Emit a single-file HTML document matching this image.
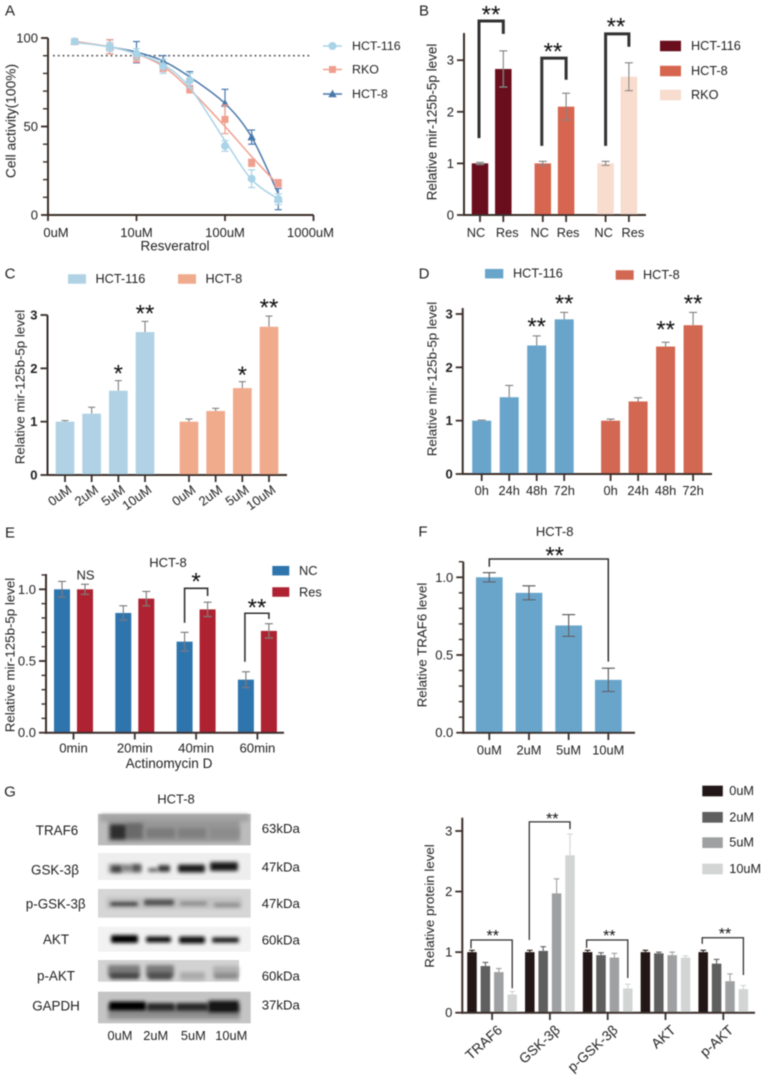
<!DOCTYPE html>
<html lang="en">
<head>
<meta charset="utf-8">
<title>Resveratrol and mir-125b-5p figure</title>
<style>
html,body{margin:0;padding:0;background:#fff;width:766px;height:1080px;overflow:hidden}
svg{display:block}
text{font-family:"Liberation Sans",sans-serif;fill:#222}
</style>
</head>
<body>
<svg id="figure" xmlns="http://www.w3.org/2000/svg" width="766" height="1080" viewBox="0 0 766 1080">
  <defs>
    <filter id="soft" filterUnits="userSpaceOnUse" x="0" y="0" width="766" height="1080"><feGaussianBlur stdDeviation="0.4"/></filter>
    <filter id="bandBlur" x="-30%" y="-80%" width="160%" height="260%"><feGaussianBlur stdDeviation="1.9"/></filter>
  </defs>
  <rect width="766" height="1080" fill="#fff"/>
  <g id="root" filter="url(#soft)">
    <g id="panelA"></g>
    <g id="panelB"></g>
    <g id="panelC"></g>
    <g id="panelD"></g>
    <g id="panelE"></g>
    <g id="panelF"></g>
    <g id="panelG"></g>
    <g id="panelH"></g>
  </g>
</svg>
<script>
// ---------- Panel A data ----------
const panelADoses = [2, 5, 10, 20, 40, 100, 200, 400];
const panelAXTickValues = [1, 10, 100, 1000];
const panelAXTickLabels = ['0uM', '10uM', '100uM', '1000uM'];
const panelAYTicks = [0, 50, 100];
const panelAHct116 = [98, 95, 91, 84, 76, 39, 20.5, 9];
const panelAHct116Err = [1, 2.5, 3, 4, 4, 3, 5, 3];
const panelAHct116Fit = [97.5, 95, 91, 85, 72, 42, 20, 9];
const panelARko = [98, 95, 89, 83, 71, 54, 29.5, 18];
const panelARkoErr = [1, 4, 2.5, 2, 2, 8, 2, 2];
const panelARkoFit = [98, 95, 91, 84, 71, 50, 33, 17];
const panelAHct8 = [98, 95, 92, 87, 77, 63, 44, 9];
const panelAHct8Err = [1, 4, 6, 3, 4, 8, 4, 6];
const panelAHct8Fit = [98, 95, 92, 87, 78, 63, 44, 12];

// ---------- Panel B data ----------
const panelBCategories = ['NC', 'Res'];
const panelBYTicks = [0, 1, 2, 3];
const panelBHct116 = [1, 2.83];
const panelBHct116Err = [0.02, 0.35];
const panelBHct8 = [1, 2.1];
const panelBHct8Err = [0.04, 0.26];
const panelBRko = [1, 2.68];
const panelBRkoErr = [0.04, 0.27];

// ---------- Panel C data ----------
const panelCCategories = ['0uM', '2uM', '5uM', '10uM'];
const panelCYTicks = [0, 1, 2, 3];
const panelCHct116 = [1, 1.15, 1.58, 2.68];
const panelCHct116Err = [0.02, 0.12, 0.19, 0.2];
const panelCHct8 = [1, 1.2, 1.63, 2.78];
const panelCHct8Err = [0.05, 0.05, 0.12, 0.2];

// ---------- Panel D data ----------
const panelDCategories = ['0h', '24h', '48h', '72h'];
const panelDYTicks = [0, 1, 2, 3];
const panelDHct116 = [1, 1.44, 2.41, 2.9];
const panelDHct116Err = [0.01, 0.22, 0.18, 0.13];
const panelDHct8 = [1, 1.36, 2.39, 2.79];
const panelDHct8Err = [0.03, 0.07, 0.08, 0.24];

// ---------- Panel E data ----------
const panelECategories = ['0min', '20min', '40min', '60min'];
const panelEYTicks = [0, 0.5, 1];
const panelENc = [1, 0.835, 0.635, 0.37];
const panelENcErr = [0.055, 0.05, 0.065, 0.055];
const panelERes = [1, 0.935, 0.86, 0.71];
const panelEResErr = [0.035, 0.05, 0.05, 0.05];

// ---------- Panel F data ----------
const panelFCategories = ['0uM', '2uM', '5uM', '10uM'];
const panelFYTicks = [0, 0.5, 1];
const panelFValues = [1, 0.9, 0.69, 0.34];
const panelFErr = [0.03, 0.045, 0.07, 0.075];

// ---------- Panel G protein data ----------
const proteinCategories = ['TRAF6', 'GSK-3β', 'p-GSK-3β', 'AKT', 'p-AKT'];
const proteinDoses = ['0uM', '2uM', '5uM', '10uM'];
const proteinYTicks = [0, 1, 2, 3];
const protein0uM = [1, 1, 1, 1, 1];
const protein0uMErr = [0.03, 0.03, 0.03, 0.03, 0.03];
const protein2uM = [0.77, 1.02, 0.95, 0.98, 0.81];
const protein2uMErr = [0.06, 0.07, 0.04, 0.02, 0.07];
const protein5uM = [0.67, 1.97, 0.91, 0.95, 0.52];
const protein5uMErr = [0.06, 0.24, 0.07, 0.05, 0.12];
const protein10uM = [0.3, 2.6, 0.4, 0.91, 0.39];
const protein10uMErr = [0.05, 0.35, 0.07, 0.03, 0.06];

// ---------- Helpers ----------
const NS = 'http://www.w3.org/2000/svg';
const INK = '#3a2f2a';

function add(parent, tag, attrs) {
  const el = document.createElementNS(NS, tag);
  for (const k in attrs) el.setAttribute(k, attrs[k]);
  parent.appendChild(el);
  return el;
}
function label(parent, x, y, str, size, name, opts) {
  const o = opts || {};
  const el = add(parent, 'text', {x: x, y: y, 'font-size': size, 'text-anchor': o.anchor || 'middle', 'dominant-baseline': o.baseline || 'central'});
  if (o.rotate !== undefined) el.setAttribute('transform', 'rotate(' + o.rotate + ' ' + x + ' ' + y + ')');
  if (o.bold) el.setAttribute('font-weight', 'bold');
  if (o.fill) el.style.fill = o.fill;
  el.textContent = str;
  
  
  return el;
}
function segment(parent, x1, y1, x2, y2, color, width, name) {
  const el = add(parent, 'line', {x1: x1, y1: y1, x2: x2, y2: y2, stroke: color, 'stroke-width': width});
  
  
  return el;
}
function makeAxes(c) {
  return {
    cfg: c,
    y: v => c.y0 - v * c.k,
    x: i => c.first + c.step * i + c.extra * Math.floor(i / c.groupSize)
  };
}
function drawYAxis(g, ax, ticks, labels, opts) {
  const c = ax.cfg;
  segment(g, c.x0, c.yTop, c.x0, c.y0 + 1, INK, 2, 'y-axis-line');
  ticks.forEach((t, i) => {
    segment(g, c.x0 - 7, ax.y(t), c.x0, ax.y(t), INK, 1.8, 'y-axis-tick');
    label(g, c.x0 - 10, ax.y(t), labels[i], opts.size, 'y-axis-tick-label', {anchor: 'end', bold: opts.bold});
  });
  if (opts.minor) {
    for (let v = 0; ax.y(v) >= c.yTop - 0.5; v += opts.minor) {
      segment(g, c.x0 - 4.5, ax.y(v), c.x0, ax.y(v), INK, 1.4, 'y-axis-minor-tick');
    }
  }
}
function drawXLine(g, ax) {
  const c = ax.cfg;
  segment(g, c.x0 - 1, c.y0, c.xEnd, c.y0, INK, 2, 'x-axis-line');
}
function drawBars(g, ax, bars, err) {
  const c = ax.cfg;
  bars.forEach((b, i) => {
    const x = ax.x(i);
    const top = ax.y(b.v);
    const r = add(g, 'rect', {x: x - c.barW / 2, y: top, width: c.barW, height: c.y0 - top, fill: b.color});
    
    
  });
  bars.forEach((b, i) => {
    const x = ax.x(i);
    const col = err.color || b.color;
    const hi = ax.y(b.v + b.e);
    const lo = err.both ? ax.y(b.v - b.e) : ax.y(b.v);
    segment(g, x, lo, x, hi, col, err.width, 'error-bar-' + b.name);
    segment(g, x - err.cap, hi, x + err.cap, hi, col, err.width, 'error-cap-' + b.name);
    if (err.both) segment(g, x - err.cap, lo, x + err.cap, lo, col, err.width, 'error-cap-' + b.name);
  });
}
function bracket(g, ax, i, j, startV, topV, endV, width, dx) {
  const x1 = ax.x(i) + dx, x2 = ax.x(j) + dx * 0;
  const el = add(g, 'polyline', {points: [x1, ax.y(startV), x1, ax.y(topV), x2, ax.y(topV), x2, ax.y(endV)].join(' '), fill: 'none', stroke: '#333', 'stroke-width': width});
  
  
}
function stars(g, x, cy, str, size) {
  const el = label(g, x, cy + 0.56 * size, str, size, 'significance-stars', {baseline: 'auto', fill: '#111'});
  return el;
}
function swatch(g, x, cy, w, h, color, text, tx, size) {
  const r = add(g, 'rect', {x: x, y: cy - h / 2, width: w, height: h, fill: color});
  
  
  label(g, tx, cy, text, size, 'legend-label-' + text, {anchor: 'start'});
}
function seriesBars(list) {
  const out = [];
  list.forEach(s => s.values.forEach((v, i) => out.push({v: v, e: s.errs[i], color: s.color, name: s.name + '-' + i})));
  return out;
}
function groupedBars(list, n) {
  const out = [];
  for (let i = 0; i < n; i++) list.forEach(s => out.push({v: s.values[i], e: s.errs[i], color: s.color, name: s.name + '-' + i}));
  return out;
}
function smooth(pts) {
  let d = 'M' + pts[0][0] + ' ' + pts[0][1];
  for (let i = 0; i < pts.length - 1; i++) {
    const p0 = pts[Math.max(0, i - 1)], p1 = pts[i], p2 = pts[i + 1], p3 = pts[Math.min(pts.length - 1, i + 2)];
    d += ' C' + (p1[0] + (p2[0] - p0[0]) / 6) + ' ' + (p1[1] + (p2[1] - p0[1]) / 6) + ' ' +
      (p2[0] - (p3[0] - p1[0]) / 6) + ' ' + (p2[1] - (p3[1] - p1[1]) / 6) + ' ' + p2[0] + ' ' + p2[1];
  }
  return d;
}

// ---------- Panel A ----------
(function () {
  const g = document.getElementById('panelA');
  label(g, 10, 11, 'A', 15, 'panel-letter-a');
  const xA = v => 48 + 88.5 * Math.log10(v);
  const yA = v => 215 - 1.77 * v;
  segment(g, 48, 38, 48, 216, INK, 2, 'y-axis-line');
  segment(g, 47, 215, 313.5, 215, INK, 2, 'x-axis-line');
  for (let v = 0; v <= 100; v += 10) segment(g, 43, yA(v), 48, yA(v), INK, 1.4, 'y-axis-minor-tick');
  panelAYTicks.forEach(t => {
    segment(g, 41, yA(t), 48, yA(t), INK, 1.8, 'y-axis-tick');
    label(g, 38, yA(t), String(t), 13, 'y-axis-tick-label', {anchor: 'end'});
  });
  const nudge = [8, 0, 0, -3];
  panelAXTickValues.forEach((t, i) => {
    segment(g, xA(t), 215, xA(t), 221, INK, 1.8, 'x-axis-tick');
    label(g, xA(t) + nudge[i], 232.5, panelAXTickLabels[i], 13, 'x-axis-tick-label');
  });
  label(g, 175, 246, 'Resveratrol', 13.5, 'x-axis-title');
  label(g, 11, 121, 'Cell activity(100%)', 13.8, 'y-axis-title', {rotate: -90});
  const ref = segment(g, 53, yA(90), 312, yA(90), '#555', 1.6, 'ninety-percent-reference-line');
  ref.setAttribute('stroke-dasharray', '1.8 3');

  const series = [
    {name: 'hct-8', color: '#4a78aa', vals: panelAHct8, errs: panelAHct8Err, fit: panelAHct8Fit, shape: 'tri'},
    {name: 'rko', color: '#ef9f8e', vals: panelARko, errs: panelARkoErr, fit: panelARkoFit, shape: 'sq'},
    {name: 'hct-116', color: '#a9d3e6', vals: panelAHct116, errs: panelAHct116Err, fit: panelAHct116Fit, shape: 'dot'}
  ];
  function marker(parent, shape, x, y, color, name) {
    let m;
    if (shape === 'dot') m = add(parent, 'circle', {cx: x, cy: y, r: 4, fill: color});
    else if (shape === 'sq') m = add(parent, 'rect', {x: x - 3.5, y: y - 3.5, width: 7, height: 7, fill: color});
    else m = add(parent, 'polygon', {points: [x, y - 4.4, x + 4.2, y + 3.2, x - 4.2, y + 3.2].join(' '), fill: color});
    
    
  }
  series.forEach(s => {
    const line = add(g, 'path', {d: smooth(panelADoses.map((d, i) => [xA(d), yA(s.fit[i])])), fill: 'none', stroke: s.color, 'stroke-width': 1.5});
    
    
    panelADoses.forEach((d, i) => {
      const x = xA(d), hi = yA(s.vals[i] + s.errs[i]), lo = yA(s.vals[i] - s.errs[i]);
      segment(g, x, lo, x, hi, s.color, 1.2, 'error-bar-' + s.name);
      segment(g, x - 3.5, hi, x + 3.5, hi, s.color, 1.2, 'error-cap-' + s.name);
      segment(g, x - 3.5, lo, x + 3.5, lo, s.color, 1.2, 'error-cap-' + s.name);
      marker(g, s.shape, x, yA(s.vals[i]), s.color, 'point-' + s.name);
    });
  });
  [['HCT-116', '#a9d3e6', 'dot', 46], ['RKO', '#ef9f8e', 'sq', 69.5], ['HCT-8', '#4a78aa', 'tri', 94]].forEach(l => {
    segment(g, 323, l[3], 342, l[3], l[1], 1.6, 'legend-line-' + l[0]);
    marker(g, l[2], 332.5, l[3], l[1], 'legend-marker-' + l[0]);
    label(g, 352, l[3], l[0], 12.4, 'legend-label-' + l[0], {anchor: 'start'});
  });
})();

// ---------- Panel B ----------
(function () {
  const g = document.getElementById('panelB');
  label(g, 424, 11, 'B', 15, 'panel-letter-b');
  const ax = makeAxes({x0: 464, y0: 215, yTop: 33, xEnd: 646, k: 51.6, first: 480, step: 23.3, extra: 16.2, groupSize: 2, barW: 16.5});
  const list = [
    {name: 'hct-116', color: '#6a0f1e', values: panelBHct116, errs: panelBHct116Err},
    {name: 'hct-8', color: '#d6664f', values: panelBHct8, errs: panelBHct8Err},
    {name: 'rko', color: '#f8dccd', values: panelBRko, errs: panelBRkoErr}
  ];
  const bars = seriesBars(list);
  drawBars(g, ax, bars, {both: true, cap: 4, width: 1.1, color: '#808080'});
  drawXLine(g, ax);
  drawYAxis(g, ax, panelBYTicks, panelBYTicks.map(String), {size: 13});
  const nudge = [-4, 4, -3, 2, -2, 4];
  const cats = list.flatMap(() => panelBCategories);
  cats.forEach((c, i) => {
    segment(g, ax.x(i), 215, ax.x(i), 222, INK, 1.8, 'x-axis-tick');
    label(g, ax.x(i) + nudge[i], 232.5, c, 12.8, 'x-axis-tick-label');
  });
  label(g, 432, 122, 'Relative mir-125b-5p level', 13.5, 'y-axis-title', {rotate: -90});
  bracket(g, ax, 0, 1, 1.49, 3.76, 3.51, 3, -1);
  bracket(g, ax, 2, 3, 1.34, 3.04, 2.62, 3, -1);
  bracket(g, ax, 4, 5, 1.34, 3.51, 3.26, 3, 0);
  stars(g, 491, 9, '**', 24);
  stars(g, 553, 46, '**', 24);
  stars(g, 616, 21, '**', 24);
  swatch(g, 660, 46, 21, 10.5, '#6a0f1e', 'HCT-116', 691, 12.7);
  swatch(g, 660, 71, 21, 10.5, '#d6664f', 'HCT-8', 691, 12.7);
  swatch(g, 660, 95, 21, 10.5, '#f8dccd', 'RKO', 691, 12.7);
})();

// ---------- Panel C ----------
(function () {
  const g = document.getElementById('panelC');
  label(g, 10, 274, 'C', 15, 'panel-letter-c');
  const ax = makeAxes({x0: 47.5, y0: 475, yTop: 315, xEnd: 287, k: 53.33, first: 65, step: 26.67, extra: 17.3, groupSize: 4, barW: 18.7});
  const bars = seriesBars([
    {name: 'hct-116', color: '#b0d2e4', values: panelCHct116, errs: panelCHct116Err},
    {name: 'hct-8', color: '#f0ab8d', values: panelCHct8, errs: panelCHct8Err}
  ]);
  drawBars(g, ax, bars, {both: false, cap: 3.5, width: 1.1, color: '#808080'});
  drawXLine(g, ax);
  drawYAxis(g, ax, panelCYTicks, panelCYTicks.map(String), {size: 13, bold: true});
  panelCCategories.concat(panelCCategories).forEach((c, i) => {
    segment(g, ax.x(i), 475, ax.x(i), 482, INK, 1.8, 'x-axis-tick');
    label(g, ax.x(i) + 5, 488, c, 13, 'x-axis-tick-label', {anchor: 'end', rotate: -36});
  });
  label(g, 20, 387, 'Relative mir-125b-5p level', 13.3, 'y-axis-title', {rotate: -90});
  stars(g, ax.x(2), ax.y(2.005), '*', 24);
  stars(g, ax.x(3), ax.y(3.13), '**', 24);
  stars(g, ax.x(6), ax.y(1.98), '*', 24);
  stars(g, ax.x(7), ax.y(3.24), '**', 24);
  swatch(g, 68, 279, 18, 9.5, '#b0d2e4', 'HCT-116', 95.5, 12.7);
  swatch(g, 178, 279, 18, 9.5, '#f0ab8d', 'HCT-8', 205.5, 12.7);
})();

// ---------- Panel D ----------
(function () {
  const g = document.getElementById('panelD');
  label(g, 424, 274, 'D', 15, 'panel-letter-d');
  const ax = makeAxes({x0: 462.7, y0: 474, yTop: 308, xEnd: 712, k: 53.33, first: 481.7, step: 27.5, extra: 18.9, groupSize: 4, barW: 19});
  const bars = seriesBars([
    {name: 'hct-116', color: '#69a5cb', values: panelDHct116, errs: panelDHct116Err},
    {name: 'hct-8', color: '#d26751', values: panelDHct8, errs: panelDHct8Err}
  ]);
  drawBars(g, ax, bars, {both: false, cap: 4, width: 1.1, color: '#808080'});
  drawXLine(g, ax);
  drawYAxis(g, ax, panelDYTicks, panelDYTicks.map(String), {size: 13, bold: true});
  panelDCategories.concat(panelDCategories).forEach((c, i) => {
    segment(g, ax.x(i), 474, ax.x(i), 481, INK, 1.8, 'x-axis-tick');
    label(g, ax.x(i), 490.5, c, 12.8, 'x-axis-tick-label');
  });
  label(g, 432, 379, 'Relative mir-125b-5p level', 13.3, 'y-axis-title', {rotate: -90});
  stars(g, ax.x(2), ax.y(2.87), '**', 24);
  stars(g, ax.x(3), ax.y(3.3), '**', 24);
  stars(g, ax.x(6), ax.y(2.81), '**', 24);
  stars(g, ax.x(7), ax.y(3.3), '**', 24);
  swatch(g, 485, 273.7, 18.3, 9.5, '#69a5cb', 'HCT-116', 513, 12.7);
  swatch(g, 615.7, 275, 18, 9.5, '#d26751', 'HCT-8', 643, 12.7);
})();

// ---------- Panel E ----------
(function () {
  const g = document.getElementById('panelE');
  label(g, 10, 533, 'E', 15, 'panel-letter-e');
  const ax = makeAxes({x0: 46, y0: 732.7, yTop: 574, xEnd: 284, k: 143.4, first: 62, step: 23, extra: 15.3, groupSize: 2, barW: 16});
  const bars = groupedBars([
    {name: 'nc', color: '#2e75ad', values: panelENc, errs: panelENcErr},
    {name: 'res', color: '#ae2131', values: panelERes, errs: panelEResErr}
  ], panelECategories.length);
  drawBars(g, ax, bars, {both: true, cap: 4, width: 1.1, color: '#777'});
  drawXLine(g, ax);
  drawYAxis(g, ax, panelEYTicks, panelEYTicks.map(t => t.toFixed(1)), {size: 13, minor: 0.1});
  panelECategories.forEach((c, i) => {
    const mid = (ax.x(i * 2) + ax.x(i * 2 + 1)) / 2;
    segment(g, mid, 732.7, mid, 739.5, INK, 1.8, 'x-axis-tick');
    label(g, mid, 748, c, 13.2, 'x-axis-tick-label');
  });
  label(g, 169, 763.5, 'Actinomycin D', 13.6, 'x-axis-title');
  label(g, 168, 562.5, 'HCT-8', 13, 'chart-title');
  label(g, 10, 655, 'Relative mir-125b-5p level', 13.3, 'y-axis-title', {rotate: -90});
  bracket(g, ax, 4, 5, 0.767, 1.007, 0.953, 1.6, 0);
  bracket(g, ax, 6, 7, 0.495, 0.833, 0.793, 1.6, -1);
  label(g, 85.5, 575, 'NS', 13, 'not-significant-label');
  stars(g, 196, 576, '*', 24);
  stars(g, 257, 602, '**', 24);
  swatch(g, 272.3, 570.7, 17, 9.5, '#2e75ad', 'NC', 299, 12.8);
  swatch(g, 272.3, 592, 17, 9.5, '#ae2131', 'Res', 299, 12.8);
})();

// ---------- Panel F ----------
(function () {
  const g = document.getElementById('panelF');
  label(g, 423, 532, 'F', 15, 'panel-letter-f');
  const ax = makeAxes({x0: 463.3, y0: 732.7, yTop: 561.7, xEnd: 635, k: 155.4, first: 489.3, step: 39.67, extra: 0, groupSize: 4, barW: 26.7});
  const bars = seriesBars([{name: 'traf6', color: '#69a5cb', values: panelFValues, errs: panelFErr}]);
  drawBars(g, ax, bars, {both: true, cap: 6.5, width: 1.2, color: '#5e5e5e'});
  drawXLine(g, ax);
  drawYAxis(g, ax, panelFYTicks, panelFYTicks.map(t => t.toFixed(1)), {size: 13, minor: 0.1});
  panelFCategories.forEach((c, i) => {
    segment(g, ax.x(i), 732.7, ax.x(i), 740, INK, 1.8, 'x-axis-tick');
    label(g, ax.x(i), 750, c, 12.8, 'x-axis-tick-label');
  });
  label(g, 422, 645, 'Relative TRAF6 level', 13.3, 'y-axis-title', {rotate: -90});
  label(g, 554.7, 531.7, 'HCT-8', 13, 'chart-title');
  bracket(g, ax, 0, 3, 1.068, 1.118, 0.457, 1.5, 0);
  stars(g, 554.7, 550, '**', 24);
})();

// ---------- Panel G blots ----------
(function () {
  const g = document.getElementById('panelG');
  label(g, 10, 792, 'G', 15, 'panel-letter-g');
  label(g, 176, 799, 'HCT-8', 13, 'blot-title');
  const rows = [
    {name: 'TRAF6', top: 814, bot: 845.3, right: 250.7, bg: '#bcbcbc', lx: 57, ly: 830.7, kda: '63kDa', ky: 828.7,
      bands: [[100, 249, 818, 8, '#a4a4a4'], [108, 240, 831, 22, '#969696'], [126, 143, 831, 16, '#6a6a6a'], [110, 126, 832, 15, '#2e2e2e'], [146, 175, 833, 10, '#7c7c7c'], [178, 206, 833, 10, '#808080'], [210, 239, 833, 10, '#8c8c8c']]},
    {name: 'GSK-3β', top: 853, bot: 880, right: 250.7, bg: '#eeeeee', lx: 55, ly: 870, kda: '47kDa', ky: 867,
      bands: [[108, 142, 868.5, 10, '#b4b4b4'], [111, 122, 869, 7, '#444'], [122, 132, 868, 4, '#777'], [132, 141, 868, 7, '#555'], [148, 158, 870, 4, '#666'], [158, 170, 868.5, 7, '#3c3c3c'], [178, 205, 868.5, 8, '#1e1e1e'], [210, 238, 866.5, 9, '#1e1e1e']]},
    {name: 'p-GSK-3β', top: 889, bot: 917.7, right: 250.7, bg: '#d6d6d6', lx: 55.7, ly: 904, kda: '47kDa', ky: 903.3,
      bands: [[106, 242, 903, 12, '#c2c2c2'], [110, 138, 904, 4, '#3c3c3c'], [144, 174, 902.5, 6, '#505050'], [180, 207, 903.5, 4, '#8a8a8a'], [214, 240, 905, 4, '#8a8a8a']]},
    {name: 'AKT', top: 926.7, bot: 951.7, right: 250.7, bg: '#f2f2f2', lx: 56, ly: 939.3, kda: '60kDa', ky: 940,
      bands: [[111, 138, 939, 8, '#000'], [146, 171, 939.5, 6, '#0c0c0c'], [179, 205, 940, 7, '#0c0c0c'], [212, 239, 940, 5.5, '#1e1e1e']]},
    {name: 'p-AKT', top: 960, bot: 981.7, right: 239, bg: '#d2d2d2', lx: 56, ly: 976, kda: '60kDa', ky: 976,
      bands: [[108, 140, 971, 12, '#7c7c7c'], [110, 139, 976, 6, '#444'], [146, 174, 971, 12, '#7a7a7a'], [148, 172, 976, 7, '#4e4e4e'], [180, 205, 976, 8, '#ababab'], [213, 239, 971, 10, '#b0b0b0'], [214, 238, 976, 6, '#8a8a8a']]},
    {name: 'GAPDH', top: 991.7, bot: 1023.3, right: 250.7, bg: '#c4c4c4', lx: 56, ly: 1006, kda: '37kDa', ky: 1005,
      bands: [[108, 240, 1012, 14, '#8e8e8e'], [109, 146, 1006, 9, '#060606'], [147, 175, 1007, 8, '#2c2c2c'], [176, 208, 1007, 8, '#2c2c2c'], [208, 239, 1006.5, 12, '#161616']]}
  ];
  rows.forEach(r => {
    const strip = add(g, 'rect', {x: 98, y: r.top, width: r.right - 98, height: r.bot - r.top, fill: r.bg});
    
    
    r.bands.forEach(b => {
      const band = add(g, 'rect', {x: b[0], y: b[2] - b[3] / 2, width: b[1] - b[0], height: b[3], rx: 2, fill: b[4], filter: 'url(#bandBlur)'});
      
      
    });
    label(g, r.lx, r.ly, r.name, 13.4, 'blot-protein-label');
    label(g, 261.7, r.ky, r.kda, 13.2, 'blot-molecular-weight-label', {anchor: 'start'});
  });
  [['0uM', 120], ['2uM', 155.7], ['5uM', 193.3], ['10uM', 231.3]].forEach(d => {
    label(g, d[1], 1035.7, d[0], 12.8, 'blot-dose-label');
  });
})();

// ---------- Panel G protein chart ----------
(function () {
  const g = document.getElementById('panelH');
  const ax = makeAxes({x0: 462.3, y0: 1012.7, yTop: 817.7, xEnd: 755, k: 60.57, first: 472, step: 13.4, extra: 4.2, groupSize: 4, barW: 9.5});
  const colors = ['#221714', '#5f5f5f', '#9fa0a2', '#d3d5d5'];
  const bars = groupedBars([
    {name: '0um', color: colors[0], values: protein0uM, errs: protein0uMErr},
    {name: '2um', color: colors[1], values: protein2uM, errs: protein2uMErr},
    {name: '5um', color: colors[2], values: protein5uM, errs: protein5uMErr},
    {name: '10um', color: colors[3], values: protein10uM, errs: protein10uMErr}
  ], proteinCategories.length);
  drawBars(g, ax, bars, {both: false, cap: 2.8, width: 1.1});
  drawXLine(g, ax);
  drawYAxis(g, ax, proteinYTicks, proteinYTicks.map(String), {size: 13});
  proteinCategories.forEach((c, i) => {
    const mid = (ax.x(i * 4 + 1) + ax.x(i * 4 + 2)) / 2;
    segment(g, mid, 1012.7, mid, 1020, INK, 1.8, 'x-axis-tick');
    label(g, mid + 8, 1028, c, 13.8, 'x-axis-tick-label', {anchor: 'end', rotate: -42});
  });
  label(g, 429.3, 906, 'Relative protein level', 13.3, 'y-axis-title', {rotate: -90});
  bracket(g, ax, 0, 3, 1.063, 1.2, 0.403, 1.3, -1);
  bracket(g, ax, 4, 7, 1.2, 3.15, 3.03, 1.3, -0.5);
  bracket(g, ax, 8, 11, 1.07, 1.2, 0.573, 1.3, -1);
  bracket(g, ax, 16, 19, 1.136, 1.238, 0.622, 1.3, -1);
  stars(g, 492.7, 932, '**', 16);
  stars(g, 552.3, 815, '**', 16);
  stars(g, 609.3, 932, '**', 16);
  stars(g, 725, 930, '**', 16);
  proteinDoses.forEach((d, i) => {
    swatch(g, 702.3, [791, 817.3, 842.7, 869][i], 20.5, 10.7, colors[i], d, 729.3, 12.7);
  });
})();
</script>
</body>
</html>
